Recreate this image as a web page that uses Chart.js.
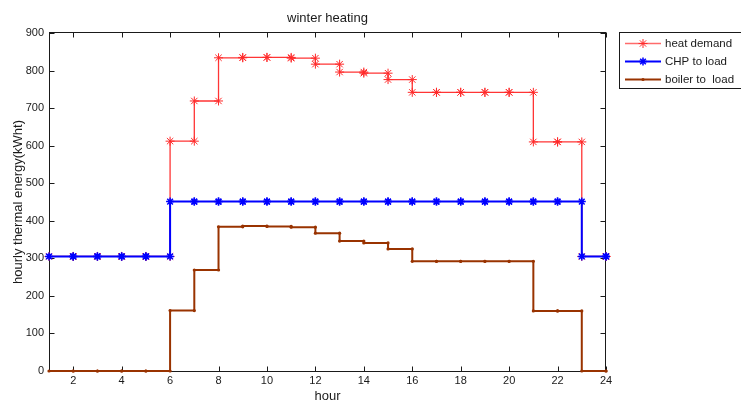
<!DOCTYPE html>
<html>
<head>
<meta charset="utf-8">
<script src="https://cdn.jsdelivr.net/npm/chart.js@4.4.1/dist/chart.umd.min.js"></script>
<style>
  html, body { margin: 0; padding: 0; background: #ffffff; }
  #wrap { width: 741px; height: 403px; }
</style>
</head>
<body>
<div id="wrap"><canvas id="chart" width="741" height="403"></canvas></div>
<script>
// Hourly winter heat balance (kWht)
const hours = [1, 2, 3, 4, 5, 6, 7, 8, 9, 10, 11, 12, 13, 14, 15, 16, 17, 18, 19, 20, 21, 22, 23, 24];
const heatDemand   = [305, 305, 305, 305, 305, 612, 719, 834, 835, 835, 833, 817, 796, 793, 776, 742, 742, 742, 742, 742, 610, 610, 305, 305];
const chpToLoad    = [305, 305, 305, 305, 305, 451, 451, 451, 451, 451, 451, 451, 451, 451, 451, 451, 451, 451, 451, 451, 451, 451, 305, 305];
const boilerToLoad = [0, 0, 0, 0, 0, 161, 269, 384, 386, 385, 383, 367, 346, 341, 325, 292, 292, 292, 292, 292, 160, 160, 0, 0];

const xTickValues = [2, 4, 6, 8, 10, 12, 14, 16, 18, 20, 22, 24];
const yTickValues = [0, 100, 200, 300, 400, 500, 600, 700, 800, 900];

const seriesNames = ['heat demand', 'CHP to load', 'boiler to  load'];
const chartTitle = 'winter heating';
const xAxisTitle = 'hour';
const yAxisTitle = 'hourly thermal energy(kWht)';

const FONT = '"Liberation Sans", Arial, Helvetica, sans-serif';
const INK = '#1a1a1a';

// Staircase: each hourly value is held until the next hour, with a marker on every corner.
function stairPoints(values) {
  const pts = [];
  values.forEach((v, i) => {
    pts.push({ x: hours[i], y: v });
    if (i < hours.length - 1) pts.push({ x: hours[i + 1], y: v });
  });
  return pts;
}

// Axes box with inward tick marks on all four sides, plus the title.
const framePlugin = {
  id: 'frame',
  beforeDatasetsDraw(chart) {
    const { ctx, chartArea: a, scales: { x, y } } = chart;
    const L = Math.round(a.left) + 0.5, R = Math.round(a.right) - 0.5;
    const T = Math.round(a.top) - 0.5, B = Math.round(a.bottom) + 0.5;
    ctx.save();
    ctx.strokeStyle = INK;
    ctx.lineWidth = 1;
    ctx.strokeRect(L, T, R - L, B - T);
    ctx.beginPath();
    const tick = 5;
    yTickValues.forEach(v => {
      const py = Math.round(y.getPixelForValue(v)) + 0.5;
      ctx.moveTo(L, py); ctx.lineTo(L + tick, py);
      ctx.moveTo(R, py); ctx.lineTo(R - tick, py);
    });
    xTickValues.forEach(v => {
      const px = Math.round(x.getPixelForValue(v)) + 0.5;
      ctx.moveTo(px, B); ctx.lineTo(px, B - tick);
      ctx.moveTo(px, T); ctx.lineTo(px, T + tick);
    });
    ctx.stroke();
    ctx.fillStyle = INK;
    ctx.font = '13px ' + FONT;
    ctx.textAlign = 'center';
    ctx.textBaseline = 'middle';
    ctx.fillText(chartTitle, (a.left + a.right) / 2, 18);
    ctx.restore();
  }
};

// Boxed legend to the right of the axes.
const legendPlugin = {
  id: 'boxLegend',
  afterDraw(chart) {
    const { ctx } = chart;
    const bx = 619.5, by = 32.5, bw = 130, bh = 56;
    ctx.save();
    ctx.fillStyle = '#ffffff';
    ctx.fillRect(bx, by, bw, bh);
    ctx.strokeStyle = INK;
    ctx.lineWidth = 1;
    ctx.strokeRect(bx, by, bw, bh);
    const rows = [43.5, 61.5, 79.5];
    chart.data.datasets.forEach((ds, r) => {
      const yy = rows[r];
      ctx.strokeStyle = ds.legendColor;
      ctx.lineWidth = ds.borderWidth;
      ctx.beginPath();
      ctx.moveTo(625, yy); ctx.lineTo(661, yy);
      ctx.stroke();
      ctx.fillStyle = ds.pointBackgroundColor;
      ctx.strokeStyle = ds.pointBorderColor;
      ctx.lineWidth = ds.pointBorderWidth;
      Chart.helpers.drawPoint(ctx, {
        pointStyle: ds.pointStyle,
        radius: ds.pointRadius,
        borderWidth: ds.pointBorderWidth
      }, 643, yy);
      ctx.fillStyle = INK;
      ctx.font = '11.5px ' + FONT;
      ctx.textAlign = 'left';
      ctx.textBaseline = 'middle';
      ctx.fillText(ds.label, 665, yy + 0.5);
    });
    ctx.restore();
  }
};

new Chart(document.getElementById('chart'), {
  type: 'scatter',
  data: {
    datasets: [
      {
        label: seriesNames[0],
        data: stairPoints(heatDemand),
        showLine: true,
        borderColor: '#ff3535',
        legendColor: '#ff6b6b',
        borderWidth: 1.3,
        pointStyle: 'star',
        pointRadius: 4.5,
        pointBorderWidth: 1,
        pointBorderColor: '#ff2a2a',
        pointBackgroundColor: '#ff2a2a',
        clip: false,
        order: 3
      },
      {
        label: seriesNames[1],
        data: stairPoints(chpToLoad),
        showLine: true,
        borderColor: '#0000ff',
        legendColor: '#0000ff',
        borderWidth: 2,
        pointStyle: 'star',
        pointRadius: 4,
        pointBorderWidth: 1.5,
        pointBorderColor: '#0000ff',
        pointBackgroundColor: '#0000ff',
        clip: false,
        order: 2
      },
      {
        label: seriesNames[2],
        data: stairPoints(boilerToLoad),
        showLine: true,
        borderColor: '#993300',
        legendColor: '#993300',
        borderWidth: 2,
        pointStyle: 'circle',
        pointRadius: 1.6,
        pointBorderWidth: 0,
        pointBorderColor: '#993300',
        pointBackgroundColor: '#993300',
        clip: false,
        order: 1
      }
    ]
  },
  options: {
    responsive: false,
    animation: false,
    devicePixelRatio: 1,
    layout: { padding: { left: 0, top: 33, right: 135, bottom: 0 } },
    plugins: {
      legend: { display: false },
      tooltip: { enabled: false },
      title: { display: false }
    },
    elements: { line: { tension: 0 } },
    scales: {
      x: {
        type: 'linear',
        min: 1,
        max: 24,
        afterBuildTicks: s => { s.ticks = xTickValues.map(v => ({ value: v })); },
        afterFit: s => { s.height = 32; },
        grid: { display: false, drawTicks: false },
        border: { display: false },
        ticks: {
          color: INK,
          font: { family: FONT, size: 11 },
          padding: 3,
          maxRotation: 0,
          autoSkip: false
        },
        title: {
          display: true,
          text: xAxisTitle,
          color: INK,
          font: { family: FONT, size: 13, lineHeight: 1 },
          padding: 0
        }
      },
      y: {
        type: 'linear',
        min: 0,
        max: 900,
        afterBuildTicks: s => { s.ticks = yTickValues.map(v => ({ value: v })); },
        afterFit: s => { s.width = 49; },
        grid: { display: false, drawTicks: false },
        border: { display: false },
        ticks: {
          color: INK,
          font: { family: FONT, size: 11 },
          padding: 5
        },
        title: {
          display: true,
          text: yAxisTitle,
          color: INK,
          font: { family: FONT, size: 13, lineHeight: 1.2 },
          padding: { top: 11, bottom: 0 }
        }
      }
    }
  },
  plugins: [framePlugin, legendPlugin]
});
</script>
</body>
</html>
